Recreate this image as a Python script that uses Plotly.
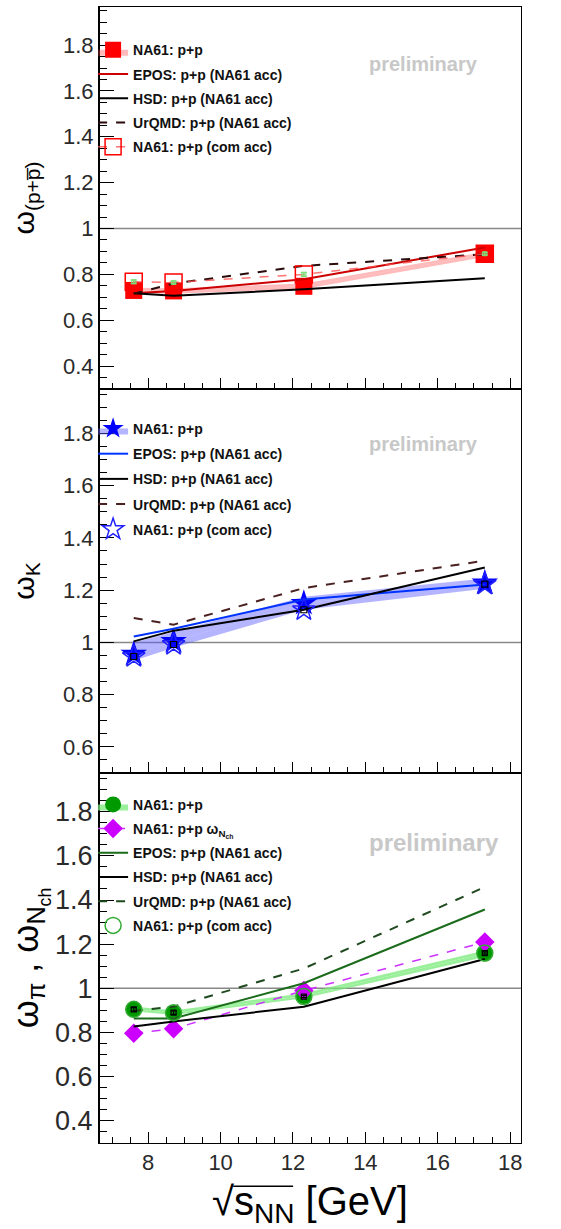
import plotly.graph_objects as go

# ---------------- data ----------------
energies = [7.6, 8.7, 12.3, 17.3]
ref_level = 1.0

# panel 1: omega (p + pbar)
p_na61 = [0.730, 0.728, 0.748, 0.887]
p_sys_lo = [0.718, 0.716, 0.736, 0.876]
p_sys_hi = [0.742, 0.740, 0.760, 0.898]
p_comacc = [0.768, 0.765, 0.800, 0.890]
p_stat = [0.008, 0.006, 0.008, 0.005]
p_epos = [0.718, 0.728, 0.779, 0.917]
p_hsd = [0.718, 0.707, 0.735, 0.783]
p_urqmd = [0.716, 0.760, 0.837, 0.888]

# panel 2: omega K
k_na61 = [0.955, 1.004, 1.150, 1.228]
k_sys_lo = [0.930, 0.980, 1.125, 1.205]
k_sys_hi = [1.000, 1.040, 1.175, 1.245]
k_comacc = [0.946, 0.992, 1.125, 1.223]
k_epos = [1.023, 1.052, 1.164, 1.222]
k_hsd = [1.004, 1.045, 1.125, 1.287]
k_urqmd = [1.093, 1.068, 1.208, 1.313]

# panel 3: omega pi, omega Nch
pi_na61 = [0.905, 0.888, 0.965, 1.158]
pi_sys_lo = [0.896, 0.880, 0.955, 1.142]
pi_sys_hi = [0.918, 0.900, 0.978, 1.172]
pi_comacc = [0.905, 0.890, 0.963, 1.160]
pi_stat = [0.008, 0.008, 0.005, 0.005]
nch_na61 = [0.797, 0.817, 0.990, 1.210]
pi_epos = [0.864, 0.864, 1.023, 1.357]
pi_hsd = [0.827, 0.850, 0.917, 1.133]
pi_urqmd = [0.898, 0.917, 1.090, 1.459]

x_ticks = [8, 10, 12, 14, 16, 18]

FONT = "Liberation Sans, Arial, sans-serif"

fig = go.Figure()
_gid = [0]


def gid():
    _gid[0] += 1
    return "g%02d" % _gid[0]


def add_band(xa, ya, lo, val, hi, fillc, name, legend, marker):
    fig.add_trace(go.Scatter(x=energies, y=lo, mode="lines", line=dict(width=0),
                             showlegend=False, hoverinfo="skip", xaxis=xa, yaxis=ya))
    fig.add_trace(go.Scatter(x=energies, y=val, mode="markers", fill="tonexty",
                             fillcolor=fillc, marker=marker, name=name, legendgroup=gid(),
                             legend=legend, xaxis=xa, yaxis=ya))
    fig.add_trace(go.Scatter(x=energies, y=hi, mode="lines", line=dict(width=0),
                             fill="tonexty", fillcolor=fillc, showlegend=False,
                             hoverinfo="skip", xaxis=xa, yaxis=ya))


def add_line(xa, ya, y, color, name, legend, dash="solid", width=2):
    fig.add_trace(go.Scatter(x=energies, y=y, mode="lines",
                             line=dict(color=color, width=width, dash=dash),
                             name=name, legend=legend, legendgroup=gid(),
                             xaxis=xa, yaxis=ya))


# ---------- panel 1 (top) ----------
add_band("x", "y", p_sys_lo, p_na61, p_sys_hi, "rgba(255,60,60,0.35)", "NA61: p+p", "legend",
         dict(symbol="square", size=17, color="#ff0000"))
add_line("x", "y", p_epos, "#cc0000", "EPOS: p+p (NA61 acc)", "legend")
add_line("x", "y", p_hsd, "#000000", "HSD: p+p (NA61 acc)", "legend")
add_line("x", "y", p_urqmd, "#2a0a0a", "UrQMD: p+p (NA61 acc)", "legend", dash="dash")
fig.add_trace(go.Scatter(x=energies, y=p_comacc, mode="lines+markers",
                         line=dict(color="rgba(255,80,80,0.8)", width=1.5, dash="dash"),
                         marker=dict(symbol="square-open", size=17, color="#ff0000",
                                     line=dict(width=1.5)),
                         name="NA61: p+p (com acc)", legend="legend", legendgroup=gid(),
                         xaxis="x", yaxis="y"))
fig.add_trace(go.Scatter(x=energies, y=p_comacc, mode="markers",
                         marker=dict(symbol="square-open", size=4, color="#7be07b"),
                         error_y=dict(type="data", array=p_stat, color="#7be07b", width=3,
                                      thickness=1.5),
                         showlegend=False, xaxis="x", yaxis="y"))

# ---------- panel 2 (middle) ----------
add_band("x2", "y2", k_sys_lo, k_na61, k_sys_hi, "rgba(90,90,255,0.45)", "NA61: p+p", "legend2",
         dict(symbol="star", size=20, color="#0000ff"))
add_line("x2", "y2", k_epos, "#0033ff", "EPOS: p+p (NA61 acc)", "legend2")
add_line("x2", "y2", k_hsd, "#000000", "HSD: p+p (NA61 acc)", "legend2")
add_line("x2", "y2", k_urqmd, "#4a2020", "UrQMD: p+p (NA61 acc)", "legend2", dash="dash")
fig.add_trace(go.Scatter(x=energies, y=k_comacc, mode="markers",
                         marker=dict(symbol="star-open", size=17, color="#2020ff",
                                     line=dict(width=1.5)),
                         name="NA61: p+p (com acc)", legend="legend2", legendgroup=gid(),
                         xaxis="x2", yaxis="y2"))
fig.add_trace(go.Scatter(x=energies, y=k_comacc, mode="markers",
                         marker=dict(symbol="square-open", size=6, color="#000000",
                                     line=dict(width=1.2)),
                         showlegend=False, xaxis="x2", yaxis="y2"))

# ---------- panel 3 (bottom) ----------
add_band("x3", "y3", pi_sys_lo, pi_na61, pi_sys_hi, "rgba(120,235,120,0.75)", "NA61: p+p", "legend3",
         dict(symbol="circle", size=16, color="#009a00"))
fig.add_trace(go.Scatter(x=energies, y=nch_na61, mode="lines+markers",
                         line=dict(color="#cc33ff", width=1.5, dash="dash"),
                         marker=dict(symbol="diamond", size=15, color="#cc00ff"),
                         name="NA61: p+p ω<sub>N<sub>ch</sub></sub>", legend="legend3",
                         legendgroup=gid(), xaxis="x3", yaxis="y3"))
add_line("x3", "y3", pi_epos, "#1a6b1a", "EPOS: p+p (NA61 acc)", "legend3")
add_line("x3", "y3", pi_hsd, "#000000", "HSD: p+p (NA61 acc)", "legend3")
add_line("x3", "y3", pi_urqmd, "#1f4a1f", "UrQMD: p+p (NA61 acc)", "legend3", dash="dash")
fig.add_trace(go.Scatter(x=energies, y=pi_comacc, mode="markers",
                         marker=dict(symbol="circle-open", size=16, color="#33aa33",
                                     line=dict(width=1.5)),
                         name="NA61: p+p (com acc)", legend="legend3", legendgroup=gid(),
                         xaxis="x3", yaxis="y3"))
fig.add_trace(go.Scatter(x=energies, y=pi_comacc, mode="markers",
                         marker=dict(symbol="square-open", size=5, color="#000000",
                                     line=dict(width=1.2)),
                         error_y=dict(type="data", array=pi_stat, color="#000000", width=3,
                                      thickness=1.2),
                         showlegend=False, xaxis="x3", yaxis="y3"))

# ---------------- layout ----------------
domains = {"y": [0.6637, 1.0], "y2": [0.3257, 0.6637], "y3": [0.0, 0.3257]}
yranges = {"y": [0.3, 1.966], "y2": [0.5, 1.97], "y3": [0.3, 1.975]}

common_x = dict(range=[6.64, 18.3], tickvals=x_ticks, ticks="inside", ticklen=11,
                tickwidth=1.2, tickcolor="black", showline=True, linecolor="black",
                linewidth=1, mirror=True, showgrid=False, zeroline=False,
                minor=dict(dtick=0.5, tick0=0, ticks="inside", ticklen=6, tickcolor="black",
                           showgrid=False))

tick_font = dict(family=FONT, size=22, color="#2a2a2a")

fig.update_layout(
    width=561, height=1229,
    margin=dict(l=99, r=40, t=7, b=86),
    paper_bgcolor="white", plot_bgcolor="white",
    font=dict(family=FONT),
    xaxis=dict(common_x, anchor="y", showticklabels=False, matches="x3"),
    xaxis2=dict(common_x, anchor="y2", showticklabels=False, matches="x3"),
    xaxis3=dict(common_x, anchor="y3", showticklabels=True, tickfont=tick_font,
                title=dict(text="√s<sub>NN</sub> [GeV]",
                           font=dict(family=FONT, size=40, color="black"), standoff=19)),
)

ytitles = {"y": ("ω<sub>(p+p\u0305)</sub>", 30, 19),
           "y2": ("ω<sub>K</sub>", 30, 19),
           "y3": ("ω<sub>π</sub> , ω<sub>N<sub>ch</sub></sub>", 36, 5)}
ytickfont = {"y": 22, "y2": 22, "y3": 27}
for key in ["y", "y2", "y3"]:
    name = "yaxis" if key == "y" else "yaxis" + key[1:]
    xa = "x" if key == "y" else "x" + key[1:]
    txt, fs, so = ytitles[key]
    fig.layout[name] = dict(
        domain=domains[key], range=yranges[key], anchor=xa,
        dtick=0.2, tick0=0, ticks="inside", ticklen=15, tickwidth=1.2, tickcolor="black",
        showline=True, linecolor="black", linewidth=1, mirror=True,
        showgrid=False, zeroline=False,
        tickfont=dict(family=FONT, size=ytickfont[key], color="#2a2a2a"),
        minor=dict(dtick=0.05, tick0=0, ticks="inside", ticklen=8, tickcolor="black",
                   showgrid=False),
        title=dict(text=txt, font=dict(family=FONT, size=fs, color="black"), standoff=so),
    )
    fig.add_shape(type="line", xref=xa + " domain", yref=key, x0=0, x1=1,
                  y0=ref_level, y1=ref_level, line=dict(color="#888888", width=1.5),
                  layer="below")

# left axis drawn a bit heavier, like the reference frame
fig.add_shape(type="line", xref="paper", yref="paper", x0=0, x1=0, y0=0, y1=1,
              line=dict(color="black", width=2))

# overline of the square-root sign in the x title
fig.add_shape(type="line", xref="paper", yref="paper", x0=0.318, x1=0.46,
              y0=-0.038, y1=-0.038, line=dict(color="black", width=1.5))

# legends
leg_font = dict(family=FONT, size=14, color="#111111", weight="bold")
legend_cfg = {"legend": (0.976, 3), "legend2": (0.6427, 4), "legend3": (0.3118, 3)}
for lg, (ytop, gap) in legend_cfg.items():
    fig.layout[lg] = dict(x=-0.014, y=ytop, xanchor="left", yanchor="top",
                          bgcolor="rgba(0,0,0,0)", font=leg_font, tracegroupgap=gap,
                          traceorder="grouped", itemsizing="trace", itemwidth=30)

# preliminary labels
for yr, yy, fs, xx in [("y", 0.85, 20, 0.77), ("y2", 0.858, 20, 0.77), ("y3", 0.812, 24, 0.795)]:
    fig.add_annotation(text="<b>preliminary</b>", xref="paper", yref=yr + " domain",
                       x=xx, y=yy, xanchor="center", yanchor="middle", showarrow=False,
                       font=dict(family=FONT, size=fs, color="#c8c8c8"))

fig.write_html("out.html")
